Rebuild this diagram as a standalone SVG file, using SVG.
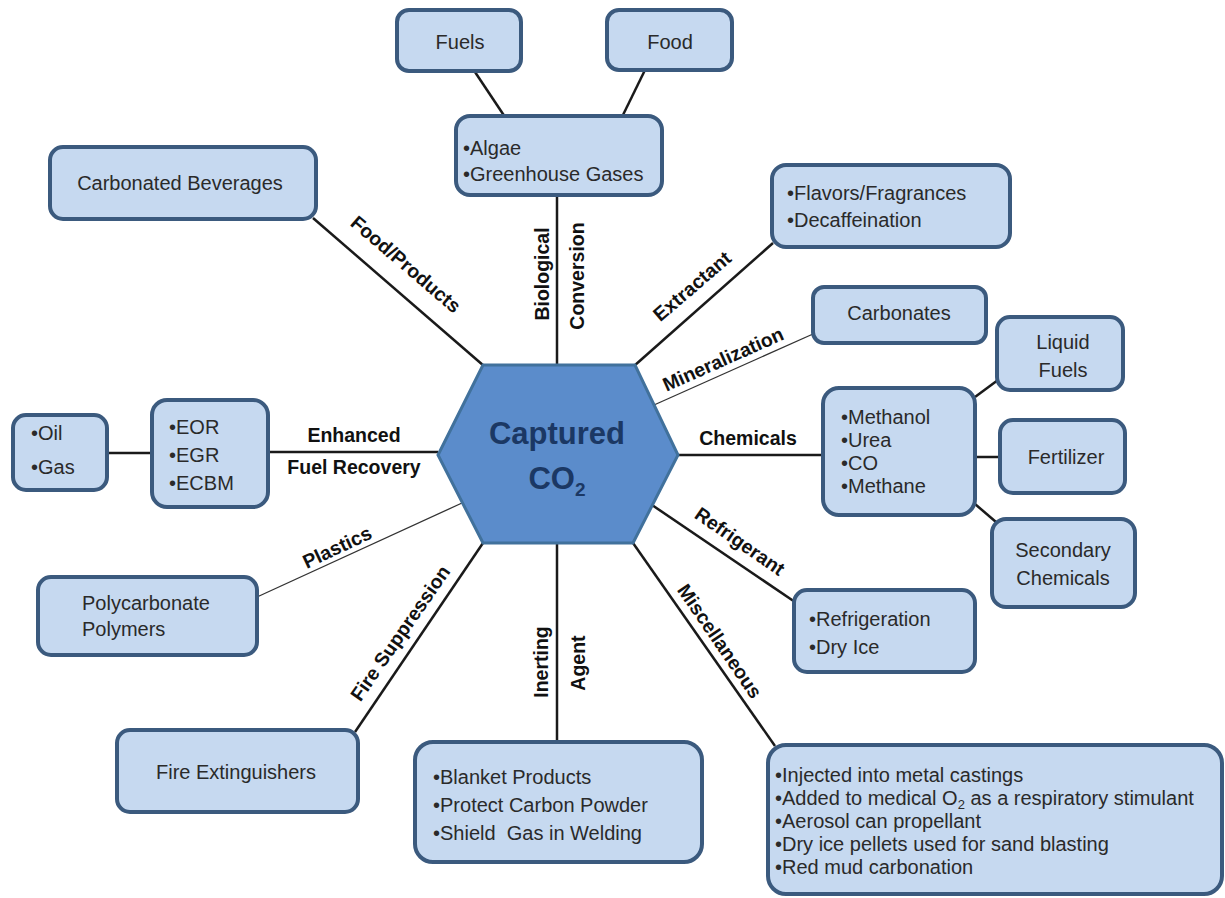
<svg xmlns="http://www.w3.org/2000/svg" width="1225" height="898" viewBox="0 0 1225 898">
<style>
.box{fill:#c6d9f0;stroke:#3b5a7e;stroke-width:4}
.bt{font-family:"Liberation Sans",Arial,sans-serif;font-size:20px;fill:#2a2a2a}
.c{text-anchor:middle}
.lab{font-family:"Liberation Sans",Arial,sans-serif;font-size:19.5px;font-weight:bold;fill:#111;text-anchor:middle}
.ln{stroke:#1a1a1a;stroke-width:2.5;fill:none}
.thin{stroke:#333;stroke-width:1.3;fill:none}
</style>
<rect width="1225" height="898" fill="#fff"/>
<g id="connectors">
<line class="ln" x1="475" y1="72" x2="505" y2="117"/>
<line class="ln" x1="645" y1="70" x2="622" y2="117"/>
<line class="ln" x1="313" y1="218" x2="484" y2="366"/>
<line class="ln" x1="557" y1="195" x2="557" y2="366"/>
<line class="ln" x1="773" y1="243" x2="634" y2="366"/>
<line class="thin" x1="654" y1="405" x2="813" y2="334"/>
<line class="ln" x1="678" y1="455" x2="823" y2="455"/>
<line class="ln" x1="975" y1="397" x2="998" y2="380"/>
<line class="ln" x1="975" y1="457" x2="1000" y2="457"/>
<line class="ln" x1="975" y1="504" x2="996" y2="522"/>
<line class="ln" x1="652" y1="505" x2="795" y2="602"/>
<line class="ln" x1="633" y1="543" x2="775" y2="746"/>
<line class="ln" x1="557" y1="543" x2="557" y2="743"/>
<line class="ln" x1="483" y1="543" x2="355" y2="732"/>
<line class="thin" x1="462" y1="503" x2="257" y2="597"/>
<line class="ln" x1="268" y1="452" x2="438" y2="452"/>
<line class="ln" x1="107" y1="453" x2="152" y2="453"/>
<text class="lab" transform="translate(406,264) rotate(40.5)" y="7">Food/Products</text>
<text class="lab" transform="translate(542,274) rotate(-90)" y="7">Biological</text>
<text class="lab" transform="translate(577,276) rotate(-90)" y="7">Conversion</text>
<text class="lab" transform="translate(692,286) rotate(-40.6)" y="7">Extractant</text>
<text class="lab" transform="translate(723,359) rotate(-24)" y="7">Mineralization</text>
<text class="lab" x="748" y="445">Chemicals</text>
<text class="lab" transform="translate(740,541) rotate(34.7)" y="7">Refrigerant</text>
<text class="lab" transform="translate(720,641) rotate(55.6)" y="7">Miscellaneous</text>
<text class="lab" transform="translate(541,662) rotate(-90)" y="7">Inerting</text>
<text class="lab" transform="translate(578,663) rotate(-90)" y="7">Agent</text>
<text class="lab" transform="translate(400,633) rotate(-55.3)" y="7">Fire Suppression</text>
<text class="lab" transform="translate(337,547) rotate(-25.2)" y="7">Plastics</text>
<text class="lab" x="354" y="442">Enhanced</text>
<text class="lab" x="354" y="474">Fuel Recovery</text>
</g>
<g id="hub">
<polygon points="483,365 635,365 678,455 633,543 483,543 438,455" fill="#5b8ccb" stroke="#41719c" stroke-width="3"/>
<text x="557" y="444" font-family="Liberation Sans,Arial,sans-serif" font-size="31" font-weight="bold" fill="#1b3864" text-anchor="middle">Captured</text>
<text x="557" y="489" font-family="Liberation Sans,Arial,sans-serif" font-size="31" font-weight="bold" fill="#1b3864" text-anchor="middle">CO<tspan font-size="19" dy="7">2</tspan></text>
</g>
<g id="fuels"><rect class="box" x="397" y="10" width="124" height="61" rx="12"/><text class="bt c" x="460" y="49">Fuels</text></g>
<g id="food"><rect class="box" x="607" y="10" width="125" height="60" rx="12"/><text class="bt c" x="670" y="49">Food</text></g>
<g id="algae"><rect class="box" x="456" y="116" width="206" height="79" rx="14"/><text class="bt" x="463" y="155">•Algae</text><text class="bt" x="463" y="181">•Greenhouse Gases</text></g>
<g id="carbonated"><rect class="box" x="50" y="147" width="266" height="72" rx="13"/><text class="bt c" x="180" y="190">Carbonated Beverages</text></g>
<g id="extract"><rect class="box" x="772" y="165" width="238" height="82" rx="14"/><text class="bt" x="787" y="200">•Flavors/Fragrances</text><text class="bt" x="787" y="227">•Decaffeination</text></g>
<g id="carbonates"><rect class="box" x="813" y="287" width="173" height="56" rx="11"/><text class="bt c" x="899" y="320">Carbonates</text></g>
<g id="chemicals"><rect class="box" x="823" y="388" width="152" height="127" rx="16"/><text class="bt" x="841" y="424">•Methanol</text><text class="bt" x="841" y="447">•Urea</text><text class="bt" x="841" y="470">•CO</text><text class="bt" x="841" y="493">•Methane</text></g>
<g id="liquid"><rect class="box" x="997" y="317" width="126" height="73" rx="13"/><text class="bt c" x="1063" y="349">Liquid</text><text class="bt c" x="1063" y="377">Fuels</text></g>
<g id="fertilizer"><rect class="box" x="1000" y="420" width="125" height="73" rx="13"/><text class="bt c" x="1066" y="464">Fertilizer</text></g>
<g id="secondary"><rect class="box" x="992" y="519" width="143" height="88" rx="14"/><text class="bt c" x="1063" y="557">Secondary</text><text class="bt c" x="1063" y="585">Chemicals</text></g>
<g id="refrig"><rect class="box" x="794" y="590" width="181" height="82" rx="13"/><text class="bt" x="809" y="626">•Refrigeration</text><text class="bt" x="809" y="654">•Dry Ice</text></g>
<g id="misc"><rect class="box" x="768" y="745" width="454" height="149" rx="18"/><text class="bt" x="775" y="782">•Injected into metal castings</text><text class="bt" x="775" y="805">•Added to medical O<tspan font-size="13" dy="4">2</tspan><tspan dy="-4"> as a respiratory stimulant</tspan></text><text class="bt" x="775" y="828">•Aerosol can propellant</text><text class="bt" x="775" y="851">•Dry ice pellets used for sand blasting</text><text class="bt" x="775" y="874">•Red mud carbonation</text></g>
<g id="inerting"><rect class="box" x="415" y="742" width="287" height="120" rx="18"/><text class="bt" x="433" y="784">•Blanket Products</text><text class="bt" x="433" y="812">•Protect Carbon Powder</text><text class="bt" x="433" y="840">•Shield&#160; Gas in Welding</text></g>
<g id="fireext"><rect class="box" x="117" y="730" width="241" height="82" rx="13"/><text class="bt c" x="236" y="779">Fire Extinguishers</text></g>
<g id="poly"><rect class="box" x="38" y="577" width="219" height="78" rx="13"/><text class="bt" x="82" y="610">Polycarbonate</text><text class="bt" x="82" y="636">Polymers</text></g>
<g id="eor"><rect class="box" x="152" y="400" width="116" height="107" rx="15"/><text class="bt" x="169" y="434">•EOR</text><text class="bt" x="169" y="462">•EGR</text><text class="bt" x="169" y="490">•ECBM</text></g>
<g id="oil"><rect class="box" x="13" y="415" width="94" height="75" rx="13"/><text class="bt" x="31" y="440">•Oil</text><text class="bt" x="31" y="474">•Gas</text></g>
</svg>
